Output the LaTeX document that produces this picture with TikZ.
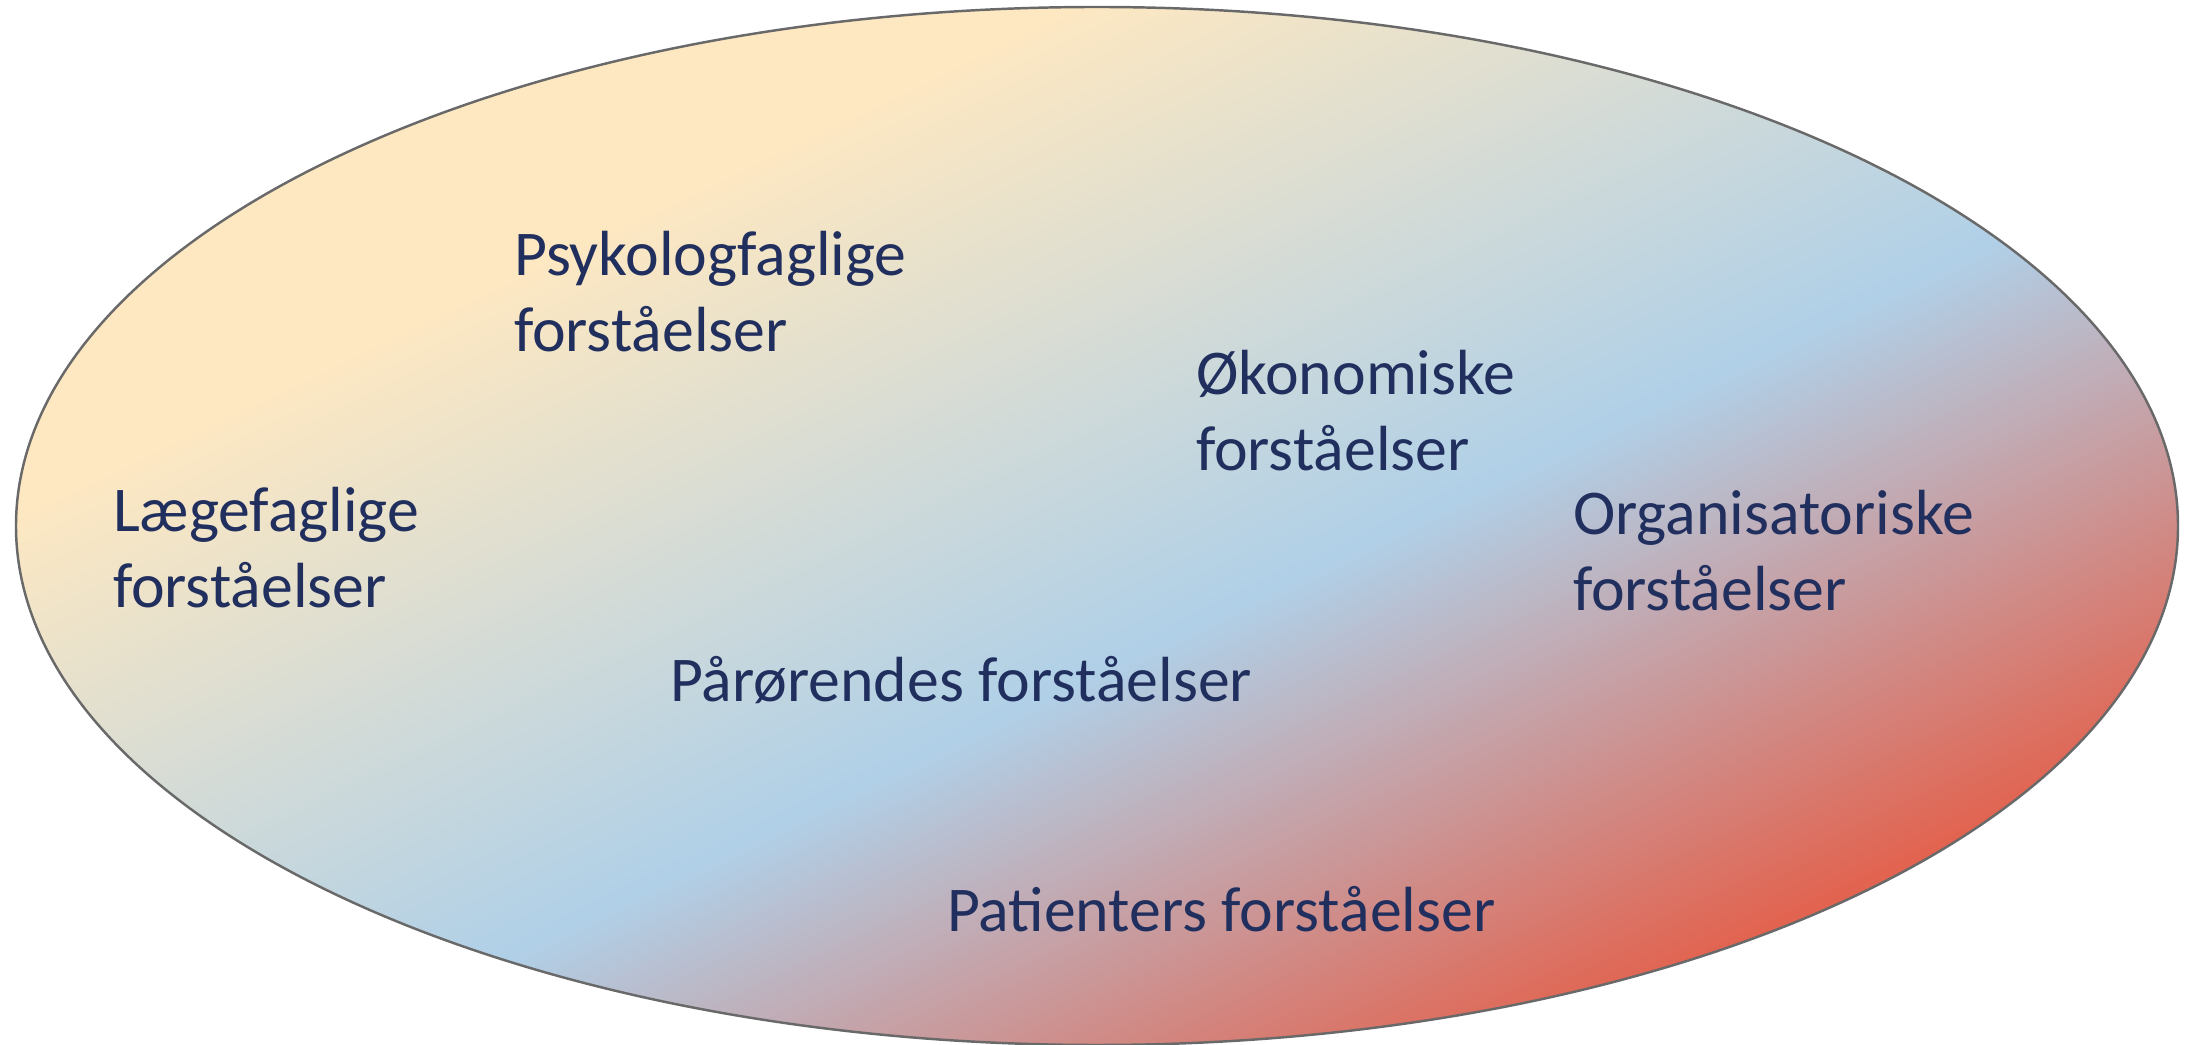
\documentclass[tikz,border=0pt]{standalone}
\usepackage{fontspec}
\usetikzlibrary{shapes.geometric}
\setmainfont{Carlito}
\definecolor{cyel}{RGB}{254,232,193}
\definecolor{cblu}{RGB}{176,208,232}
\definecolor{cred}{RGB}{226,99,79}
\definecolor{ctxt}{RGB}{33,47,94}
\definecolor{cline}{RGB}{105,105,105}
\pgfdeclarehorizontalshading{ovalfill}{100bp}{color(0bp)=(cyel); color(24bp)=(cyel); color(57bp)=(cblu); color(85bp)=(cred); color(100bp)=(cred)}
\newcommand{\twoline}[2]{\vtop{\baselineskip=21.6pt\hbox{#1}\hbox{#2}}}
\tikzset{
  lbl/.style={anchor=base west, inner sep=0pt, outer sep=0pt, text=ctxt, font=\fontsize{18.15pt}{21.6pt}\selectfont},
  oval/.style={draw=cline, line width=0.7pt}
}
\begin{document}
\begin{tikzpicture}
\useasboundingbox (0,0) rectangle (21.93,10.45);
\begin{scope}
  \clip (10.97,5.19) ellipse [x radius=10.81cm, y radius=5.19cm];
  \pgftransformcm{6.1285}{-2.9424}{6.1285}{2.9424}{\pgfpointxy{10.97}{5.19}}
  \pgftext{\pgfuseshading{ovalfill}}
\end{scope}
\node[oval, ellipse, minimum width=21.62cm, minimum height=10.38cm, inner sep=0pt] (ov) at (10.97,5.19) {};
\node[lbl] (laege) at (1.13,5.13) {\twoline{Lægefaglige}{forståelser}};
\node[lbl] (psyk) at (5.14,7.69) {\twoline{Psykologfaglige}{forståelser}};
\node[lbl] (oko) at (11.96,6.50) {\twoline{Økonomiske}{forståelser}};
\node[lbl] (org) at (15.73,5.10) {\twoline{Organisatoriske}{forståelser}};
\node[lbl] (paar) at (6.70,3.43) {Pårørendes forståelser};
\node[lbl] (pat) at (9.47,1.13) {Patienters forståelser};
\end{tikzpicture}
\end{document}
